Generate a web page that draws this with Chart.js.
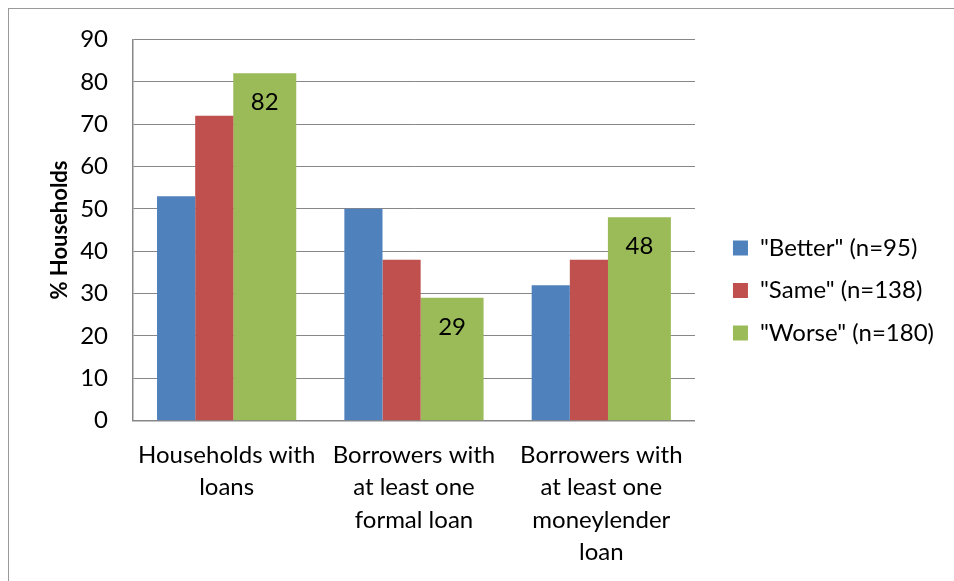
<!DOCTYPE html>
<html>
<head>
<meta charset="utf-8">
<script src="https://cdn.jsdelivr.net/npm/chart.js@4"></script>
<style>
  html, body { margin: 0; padding: 0; background: #fff; overflow: hidden; }
  #wrap { position: relative; width: 954px; height: 581px; }
  #frame { position: absolute; left: 8px; top: 8px; width: 1200px; height: 800px;
           border-left: 1px solid #9a9a9a; border-top: 1px solid #9a9a9a; pointer-events: none; }
</style>
</head>
<body>
<div id="wrap">
  <canvas id="chart" width="954" height="581"></canvas>
  <div id="frame"></div>
</div>
<script>
// categories and series
const categories = [
  ["Households with", "loans"],
  ["Borrowers with", "at least one", "formal loan"],
  ["Borrowers with", "at least one", "moneylender", "loan"]
];
const seriesNames = ['"Better" (n=95)', '"Same" (n=138)', '"Worse" (n=180)'];
const better = [53, 50, 32];
const same = [72, 38, 38];
const worse = [82, 29, 48];
const yTicks = [0, 10, 20, 30, 40, 50, 60, 70, 80, 90];

const FONT = "Lato";
const GRID = "#878787";

// bars sit on a hidden index axis, shifted a bit left of the label centres
const toPoints = arr => arr.map((v, i) => ({ x: i, y: v }));

// write the value inside the top of the green bars
const greenLabels = {
  id: "greenLabels",
  afterDatasetsDraw(chart) {
    const ctx = chart.ctx;
    const meta = chart.getDatasetMeta(2);
    ctx.save();
    ctx.font = "24px " + FONT;
    ctx.fillStyle = "#000";
    ctx.textAlign = "center";
    ctx.textBaseline = "middle";
    meta.data.forEach((bar, i) => ctx.fillText(String(worse[i]), bar.x, bar.y + 29));
    ctx.restore();
  }
};

new Chart(document.getElementById("chart"), {
  type: "bar",
  data: {
    labels: categories,
    datasets: [
      { label: seriesNames[0], data: toPoints(better), backgroundColor: "#4F81BD",
        xAxisID: "xb", categoryPercentage: 0.611, barPercentage: 1.0 },
      { label: seriesNames[1], data: toPoints(same), backgroundColor: "#C0504D",
        xAxisID: "xb", categoryPercentage: 0.611, barPercentage: 1.0 },
      { label: seriesNames[2], data: toPoints(worse), backgroundColor: "#9BBB59",
        xAxisID: "xb", categoryPercentage: 0.8087, barPercentage: 1.2475 }
    ]
  },
  options: {
    responsive: false,
    animation: false,
    devicePixelRatio: 1,
    layout: { padding: { left: 0, right: 10, top: 0, bottom: 0 } },
    scales: {
      x: {
        type: "category",
        offset: true,
        grid: { display: false },
        border: { display: true, color: GRID, width: 1.5 },
        ticks: { color: "#000", padding: 10, maxRotation: 0, autoSkip: false,
                 font: { family: FONT, size: 24, lineHeight: 1.354 } },
        afterFit: s => { s.height = 160.3; }
      },
      xb: {
        type: "linear",
        display: false,
        offset: false,
        bounds: "data",
        min: -0.4338,
        max: 2.5662,
        ticks: { stepSize: 1, includeBounds: false },
        grid: { display: false }
      },
      y: {
        position: "left",
        min: 0,
        max: 90,
        afterBuildTicks: s => { s.ticks = yTicks.map(v => ({ value: v })); },
        grid: { color: GRID, lineWidth: 1, drawTicks: false },
        border: { display: true, color: GRID, width: 1.5 },
        ticks: { color: "#000", padding: 25, font: { family: FONT, size: 24 } },
        title: { display: true, text: "% Households", color: "#000",
                 font: { family: FONT, size: 22, weight: "bold" }, padding: { top: 47 } },
        afterFit: s => { s.width = 133; }
      },
      yPad: {
        type: "linear",
        position: "right",
        display: true,
        ticks: { display: false },
        grid: { display: false },
        border: { display: false },
        afterFit: s => { s.width = 19.5; }
      }
    },
    plugins: {
      title: { display: true, text: "", font: { size: 1, lineHeight: 1 }, padding: { top: 37.6, bottom: 0 } },
      tooltip: { enabled: false },
      legend: {
        position: "right",
        maxWidth: 400,
        labels: {
          color: "#000",
          boxWidth: 15,
          boxHeight: 15,
          padding: 18.5,
          font: { family: FONT, size: 24 }
        }
      }
    }
  },
  plugins: [greenLabels]
});
</script>
</body>
</html>
